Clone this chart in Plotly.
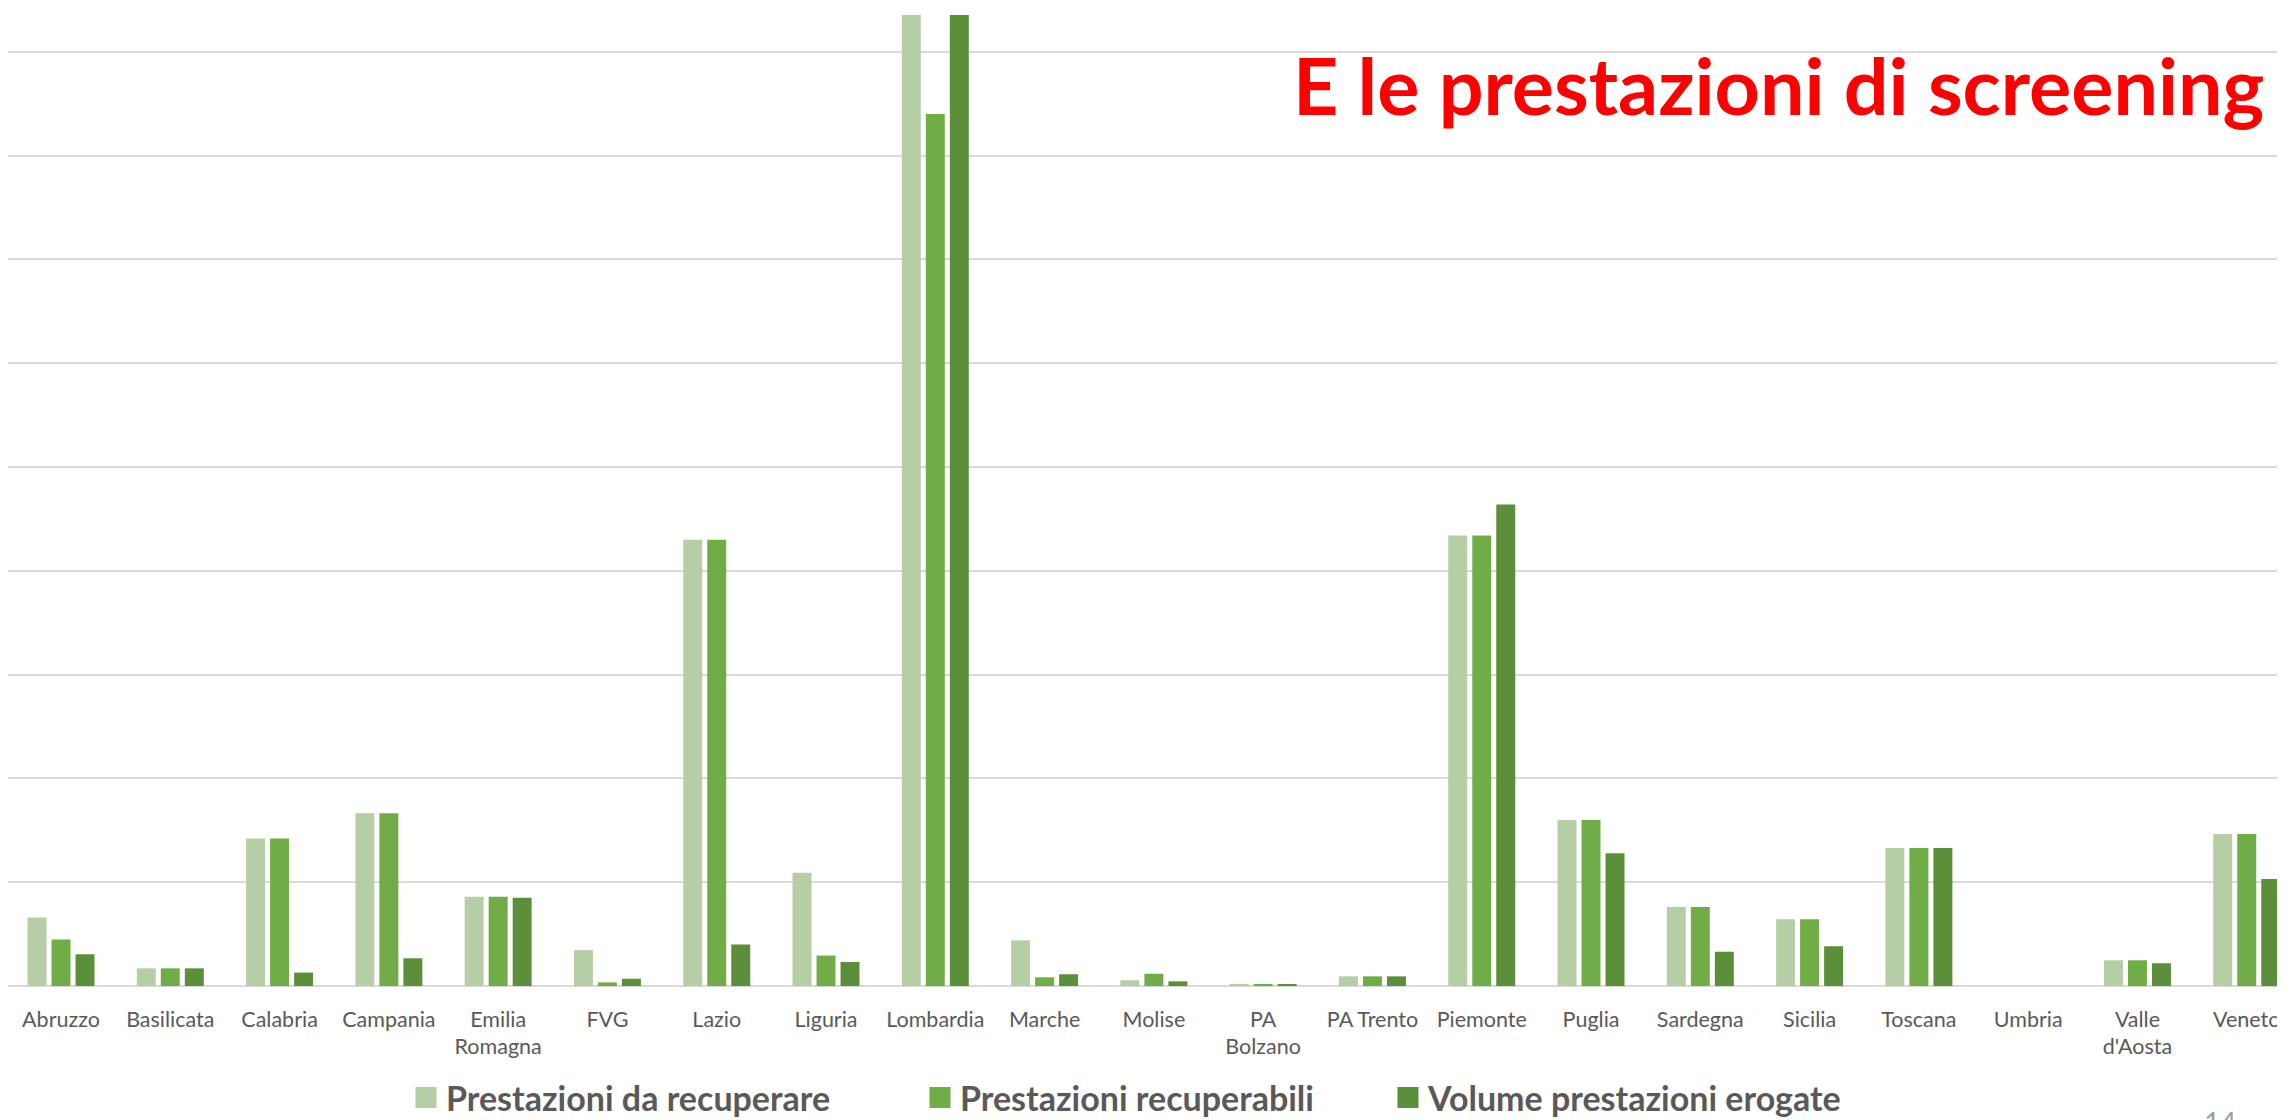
import plotly.graph_objects as go

categories = ["Abruzzo", "Basilicata", "Calabria", "Campania", "Emilia Romagna", "FVG",
              "Lazio", "Liguria", "Lombardia", "Marche", "Molise", "PA Bolzano", "PA Trento",
              "Piemonte", "Puglia", "Sardegna", "Sicilia", "Toscana", "Umbria",
              "Valle d'Aosta", "Veneto"]
tick_labels = ["Abruzzo", "Basilicata", "Calabria", "Campania", "Emilia<br>Romagna", "FVG",
               "Lazio", "Liguria", "Lombardia", "Marche", "Molise", "PA<br>Bolzano", "PA Trento",
               "Piemonte", "Puglia", "Sardegna", "Sicilia", "Toscana", "Umbria",
               "Valle<br>d'Aosta", "Veneto"]

series_names = ["Prestazioni da recuperare", "Prestazioni recuperabili",
                "Volume prestazioni erogate"]

da_recuperare = [0.66, 0.17, 1.42, 1.665, 0.86, 0.345, 4.30, 1.09, 9.6, 0.44, 0.055,
                 0.016, 0.093, 4.34, 1.60, 0.76, 0.644, 1.33, 0, 0.248, 1.465]
recuperabili = [0.448, 0.17, 1.42, 1.665, 0.86, 0.035, 4.30, 0.293, 8.40, 0.084, 0.118,
                0.016, 0.093, 4.34, 1.60, 0.76, 0.644, 1.33, 0, 0.248, 1.465]
erogate = [0.306, 0.17, 0.129, 0.267, 0.85, 0.07, 0.40, 0.232, 9.6, 0.113, 0.045,
           0.016, 0.093, 4.64, 1.28, 0.33, 0.383, 1.33, 0, 0.219, 1.03]

colors = ["#B5CEA6", "#70AD47", "#5B8F3A"]
values = [da_recuperare, recuperabili, erogate]
legend_ids = ["legend", "legend2", "legend3"]

fig = go.Figure()
for name, vals, col in zip(series_names, values, colors):
    fig.add_trace(go.Bar(x=categories, y=vals, name=name, marker_color=col,
                         marker_line_width=0, showlegend=False))
for name, col, lid in zip(series_names, colors, legend_ids):
    fig.add_trace(go.Scatter(x=[None], y=[None], mode="markers", name=name,
                             marker=dict(symbol="square", size=16, color=col,
                                         line=dict(color=col, width=5)),
                             showlegend=True, legend=lid))

# the page body adds an 8px offset; figure coords = page coords - 8
OFF = 8
W, H = 2285 - OFF, 1120 - OFF
ml, mr, mt, mb = 0, 0, 15 - OFF, H - (986 - OFF)
pw = W - ml - mr
ph = H - mt - mb


def px_x(p):
    return (p - OFF - ml) / pw


def px_y(p):
    return (H - mb - (p - OFF)) / ph


legend_font = dict(family="Lato", size=34, color="#595959", weight="bold")
legend_common = dict(orientation="h", yref="container", yanchor="middle",
                     y=(H - (1098 - OFF)) / H, xanchor="left",
                     font=legend_font, bgcolor="rgba(0,0,0,0)", itemsizing="trace")

fig.update_layout(
    width=W, height=H, autosize=False,
    margin=dict(l=ml, r=mr, t=mt, b=mb, pad=0, autoexpand=False),
    paper_bgcolor="white", plot_bgcolor="white",
    barmode="group", bargap=0.341, bargroupgap=0.21,
    xaxis=dict(type="category", range=[-0.485, 20.35], tickmode="array",
               tickvals=categories, ticktext=tick_labels, tickangle=0,
               ticks="", showgrid=False, showline=False, zeroline=False,
               tickfont=dict(family="Lato", size=21.5, color="#595959"),
               ticklabelstandoff=18, fixedrange=True, automargin=False),
    yaxis=dict(range=[0, 9.355], dtick=1, showticklabels=False, ticks="",
               showgrid=True, gridcolor="#D9D9D9", gridwidth=1.5,
               zeroline=True, zerolinecolor="#D9D9D9", zerolinewidth=2,
               showline=False, fixedrange=True, automargin=False),
    legend=dict(x=px_x(406), **legend_common),
    legend2=dict(x=px_x(920), **legend_common),
    legend3=dict(x=px_x(1388), **legend_common),
    annotations=[
        dict(text="E le prestazioni di screening", xref="paper", yref="paper",
             x=px_x(2266), y=px_y(84), xanchor="right", yanchor="middle",
             showarrow=False,
             font=dict(family="Lato", size=79, color="#FF0000", weight="bold")),
        dict(text="14", xref="paper", yref="paper", x=px_x(2220), y=px_y(1103),
             xanchor="center", yanchor="top", showarrow=False,
             font=dict(family="Lato", size=28, color="#A0A0A0")),
    ],
)

fig.write_html("out.html")
